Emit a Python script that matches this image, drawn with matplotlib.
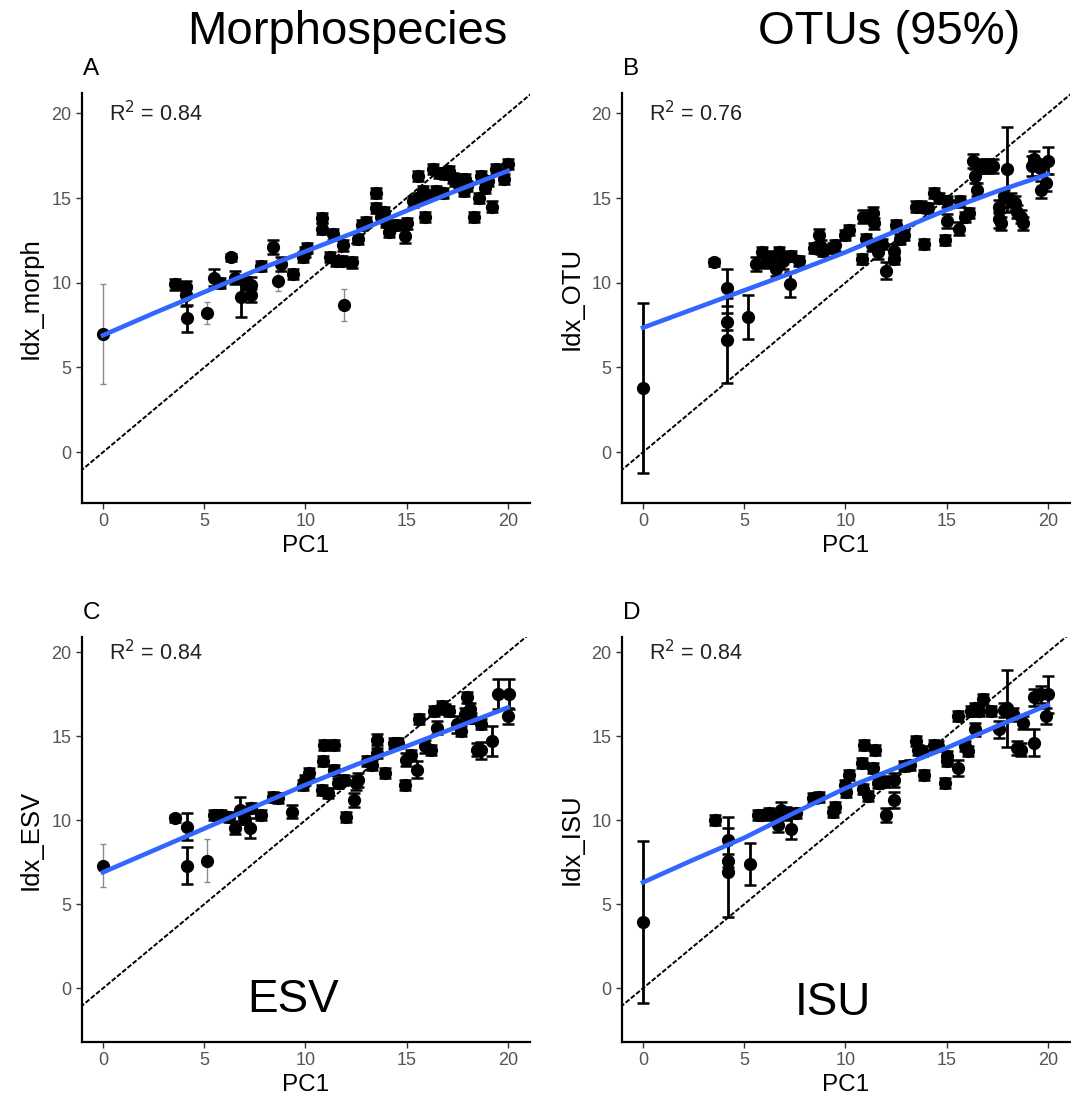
import matplotlib
matplotlib.use("Agg")
import matplotlib.pyplot as plt

plt.rcParams['font.family'] = ['Liberation Sans', 'DejaVu Sans']

# PC1 score, index value and error half-width for each site
a_x = [0.0, 3.54, 4.1, 4.12, 4.15, 5.13, 5.5, 5.76, 6.3, 6.5, 6.8, 7.08, 7.3, 7.3,
       7.8, 8.4, 8.67, 8.8, 9.4, 9.9, 9.96, 10.1, 10.8, 10.8, 11.35, 11.2, 11.5,
       11.8, 11.85, 12.3, 11.9, 12.8, 13.0, 13.5, 13.5, 13.75, 14.15, 14.5, 14.9,
       15.0, 15.55, 15.55, 15.8, 15.9, 16.3, 16.45, 16.6, 16.9, 17.1, 17.3, 17.4,
       17.6, 17.85, 17.9, 18.0, 18.35, 18.6, 18.7, 18.9, 19.0, 19.2, 19.4, 19.8, 20.0,
       15.3, 16.0, 16.8, 14.0, 12.6, 13.9]
a_y = [7.0, 9.9, 9.75, 9.25, 7.9, 8.2, 10.3, 10.0, 11.5, 10.3, 9.15, 9.95, 9.85, 9.25,
       11.0, 12.1, 10.1, 11.1, 10.5, 11.5, 11.8, 12.06, 13.8, 13.2, 12.85, 11.5, 11.3,
       11.3, 12.2, 11.2, 8.7, 13.4, 13.6, 15.3, 14.4, 13.9, 13.0, 13.4, 12.75,
       13.5, 16.3, 15.0, 15.4, 13.9, 16.7, 15.4, 16.5, 16.4, 16.6, 16.2, 16.0,
       16.0, 15.4, 16.1, 15.7, 13.9, 15.0, 16.3, 15.6, 16.0, 14.5, 16.7, 16.1, 17.0,
       14.8, 15.2, 15.3, 13.6, 12.6, 14.2]
a_err = [2.95, 0.3, 0.35, 0.6, 0.8, 0.65, 0.5, 0.3, 0.2, 0.4, 1.15, 0.4, 0.5, 0.4,
         0.3, 0.4, 0.6, 0.4, 0.3, 0.3, 0.3, 0.3, 0.3, 0.3, 0.3, 0.3, 0.3,
         0.3, 0.3, 0.3, 0.95, 0.3, 0.3, 0.3, 0.3, 0.3, 0.3, 0.3, 0.4,
         0.3, 0.3, 0.3, 0.3, 0.3, 0.3, 0.3, 0.3, 0.3, 0.3, 0.3, 0.3,
         0.4, 0.3, 0.3, 0.3, 0.3, 0.3, 0.3, 0.3, 0.3, 0.3, 0.3, 0.3, 0.3,
         0.3, 0.3, 0.3, 0.3, 0.3, 0.3]
a_grey = [0, 5, 16, 30]

b_x = [0.0, 3.5, 4.16, 4.16, 4.16, 5.2, 5.56, 5.9, 6.3, 6.55, 6.7, 6.9, 7.3, 7.25,
       7.7, 8.45, 8.7, 8.77, 9.4, 9.5, 10.0, 10.2, 10.8, 10.85, 11.35, 11.4, 11.3,
       11.8, 11.6, 12.0, 12.4, 12.4, 12.5, 12.9, 13.5, 13.9, 13.75, 14.4, 14.65,
       14.9, 15.0, 15.0, 15.6, 15.65, 15.9, 16.1, 16.3, 16.4, 16.5, 16.7, 17.0,
       17.3, 17.6, 17.6, 17.7, 17.85, 18.0, 18.2, 18.4, 18.5, 18.7, 18.8, 19.2,
       19.3, 19.6, 19.67, 19.9, 20.0, 6.1, 8.9, 11.0, 12.7, 14.1]
b_y = [3.8, 11.2, 9.7, 7.7, 6.6, 8.0, 11.1, 11.8, 11.5, 10.8, 11.8, 11.3, 11.6, 9.9,
       11.3, 12.05, 12.8, 12.1, 12.05, 12.2, 12.8, 13.1, 11.4, 13.9, 14.1, 13.5, 12.2,
       12.3, 11.8, 10.7, 11.9, 11.4, 13.4, 12.8, 14.5, 12.3, 14.5, 15.3, 15.0,
       12.5, 14.8, 13.65, 13.2, 14.8, 13.9, 14.1, 17.2, 16.3, 15.5, 16.9, 16.9,
       16.9, 14.5, 13.75, 13.5, 15.1, 16.7, 14.9, 14.7, 14.2, 13.9, 13.5, 16.9,
       17.3, 16.8, 15.5, 15.9, 17.2, 11.2, 11.9, 12.6, 12.6, 14.4]
b_err = [5.0, 0.2, 1.1, 0.5, 2.5, 1.3, 0.4, 0.3, 0.4, 0.4, 0.3, 0.5, 0.3, 0.75,
         0.3, 0.3, 0.4, 0.4, 0.3, 0.3, 0.3, 0.3, 0.3, 0.4, 0.4, 0.3, 0.3,
         0.3, 0.4, 0.5, 0.4, 0.3, 0.3, 0.3, 0.3, 0.3, 0.3, 0.3, 0.3,
         0.3, 0.3, 0.4, 0.4, 0.3, 0.3, 0.3, 0.4, 0.4, 0.4, 0.4, 0.4,
         0.4, 0.4, 0.5, 0.4, 0.4, 2.5, 0.4, 0.4, 0.4, 0.4, 0.4, 0.6,
         0.5, 0.5, 0.5, 0.5, 0.8, 0.3, 0.3, 0.3, 0.3, 0.3]
b_grey = []

c_x = [0.0, 3.54, 4.15, 4.15, 5.15, 5.5, 5.85, 6.2, 6.5, 6.75, 6.95, 7.28, 7.3, 7.8,
       8.4, 8.64, 9.33, 9.9, 10.0, 10.2, 10.9, 11.4, 10.85, 11.4, 10.8, 11.1, 11.6,
       11.9, 12.0, 12.4, 12.5, 12.6, 13.05, 13.55, 13.55, 13.95, 14.4, 14.6, 14.95,
       14.9, 15.5, 15.6, 15.9, 16.2, 16.35, 16.5, 16.75, 17.1, 17.5, 17.7, 17.9,
       18.0, 18.15, 18.2, 18.5, 18.7, 18.7, 19.2, 19.5, 20.0, 20.05, 13.3, 15.2, 16.9]
c_y = [7.3, 10.1, 9.6, 7.3, 7.6, 10.3, 10.3, 10.2, 9.55, 10.6, 10.2, 9.55, 10.7, 10.3,
       11.4, 11.3, 10.5, 12.1, 12.4, 12.8, 14.45, 14.45, 13.5, 13.0, 11.8, 11.6, 12.2,
       12.4, 10.2, 11.2, 12.2, 12.4, 13.5, 14.8, 14.0, 12.8, 14.6, 14.6, 13.6,
       12.1, 13.0, 16.0, 14.4, 14.2, 16.5, 15.5, 16.8, 16.5, 15.7, 15.3, 16.3,
       17.3, 16.6, 16.1, 14.2, 15.7, 14.15, 14.7, 17.5, 16.2, 17.5, 13.3, 13.9, 16.6]
c_err = [1.3, 0.2, 0.8, 1.1, 1.3, 0.3, 0.3, 0.3, 0.4, 0.8, 0.4, 0.6, 0.3, 0.3,
         0.3, 0.3, 0.4, 0.3, 0.3, 0.3, 0.3, 0.3, 0.3, 0.3, 0.3, 0.3, 0.3,
         0.3, 0.3, 0.4, 0.4, 0.4, 0.3, 0.3, 0.3, 0.3, 0.3, 0.3, 0.4,
         0.3, 0.5, 0.3, 0.4, 0.3, 0.3, 0.4, 0.3, 0.3, 0.5, 0.3, 0.4,
         0.3, 0.4, 0.3, 0.4, 0.3, 0.5, 0.9, 0.9, 0.5, 0.9, 0.3, 0.3, 0.3]
c_grey = [0, 4]

d_x = [0.0, 3.54, 4.2, 4.2, 4.2, 5.27, 5.7, 5.9, 6.2, 6.4, 6.67, 6.83, 7.08, 7.3,
       7.57, 8.4, 8.7, 9.4, 9.5, 10.0, 10.04, 10.2, 10.9, 11.45, 10.8, 11.36, 10.85,
       11.1, 11.6, 11.9, 12.0, 12.4, 12.4, 12.9, 13.5, 13.6, 13.9, 13.8, 14.4,
       14.9, 15.0, 15.0, 15.55, 15.55, 15.9, 16.05, 16.2, 16.4, 16.4, 16.8, 17.2,
       17.6, 17.86, 18.0, 18.3, 18.5, 18.7, 18.8, 19.3, 19.3, 19.67, 19.9, 20.0,
       13.2, 14.6, 16.6]
d_y = [3.95, 10.0, 8.85, 7.6, 6.9, 7.4, 10.3, 10.3, 10.4, 10.3, 9.7, 10.6, 10.4, 9.5,
       10.4, 11.3, 11.4, 10.5, 10.8, 12.1, 11.65, 12.7, 14.5, 14.2, 13.4, 13.1, 11.85,
       11.45, 12.2, 12.3, 10.3, 11.2, 12.4, 13.2, 14.7, 14.2, 12.7, 14.1, 14.5,
       12.2, 13.8, 13.5, 13.1, 16.2, 14.4, 14.1, 16.5, 15.4, 16.7, 17.2, 16.5,
       15.4, 16.55, 16.65, 16.3, 14.3, 14.2, 15.8, 14.6, 17.3, 17.5, 16.2, 17.5,
       13.3, 14.4, 16.5]
d_err = [4.8, 0.3, 1.35, 0.4, 2.65, 1.25, 0.3, 0.3, 0.3, 0.3, 0.4, 0.5, 0.4, 0.6,
         0.3, 0.3, 0.3, 0.3, 0.3, 0.3, 0.3, 0.3, 0.3, 0.3, 0.3, 0.3, 0.3,
         0.3, 0.3, 0.3, 0.4, 0.5, 0.4, 0.3, 0.3, 0.3, 0.3, 0.3, 0.3,
         0.3, 0.3, 0.3, 0.5, 0.3, 0.3, 0.3, 0.3, 0.4, 0.3, 0.3, 0.3,
         0.5, 0.4, 2.3, 0.4, 0.4, 0.4, 0.4, 0.8, 0.5, 0.5, 0.5, 1.1,
         0.3, 0.3, 0.3]
d_grey = []

# fitted smooth, read at fixed PC1 steps
fit_x = [0, 2.5, 5, 7.5, 10, 12.5, 15, 17.5, 20]
a_fit = [6.9, 8.2, 9.45, 10.7, 11.85, 13.0, 14.25, 15.45, 16.6]
b_fit = [7.35, 8.45, 9.55, 10.65, 11.8, 13.05, 14.3, 15.4, 16.4]
c_fit = [6.9, 8.2, 9.5, 10.8, 12.1, 13.3, 14.4, 15.55, 16.7]
d_fit = [6.3, 7.65, 8.95, 10.45, 11.9, 13.1, 14.3, 15.6, 16.85]

r2 = ["0.84", "0.76", "0.84", "0.84"]
ylabels = ["Idx_morph", "Idx_OTU", "Idx_ESV", "Idx_ISU"]
letters = ["A", "B", "C", "D"]

W, H = 1071, 1110
fig = plt.figure(figsize=(W / 100, H / 100), dpi=100)


def box(left, top, right, bottom):
    """pixel box -> figure fraction rect"""
    return [left / W, 1 - bottom / H, (right - left) / W, (bottom - top) / H]


def draw_panel(ax, x, y, err, grey, fit, ylab, r2txt, ylim):
    """one scatter panel with error bars, smooth and 1:1 line"""
    ax.set_xlim(-1.04, 21.1)
    ax.set_ylim(*ylim)
    ax.plot([-5, 30], [-5, 30], color="black", lw=1.4, ls=(0, (2.5, 1)), zorder=1)
    for i in range(len(x)):
        if i in grey:
            ax.errorbar(x[i], y[i], yerr=err[i], fmt="none", ecolor="#8a8a8a",
                        elinewidth=1.0, capsize=2.5, capthick=1.0, zorder=2)
        else:
            ax.errorbar(x[i], y[i], yerr=err[i], fmt="none", ecolor="black",
                        elinewidth=2.0, capsize=4, capthick=1.8, zorder=2)
    ax.plot(x, y, "o", color="black", ms=8.5, zorder=3)
    ax.plot(fit_x, fit, color="#3366FF", lw=3.3, zorder=4)
    ax.text(0.3, 20.0, r"R$^2$ = " + r2txt, fontsize=15.5, color="#222222",
            va="center", ha="left")
    for s in ("top", "right"):
        ax.spines[s].set_visible(False)
    for s in ("left", "bottom"):
        ax.spines[s].set_linewidth(1.6)
    ax.set_xticks([0, 5, 10, 15, 20])
    ax.set_yticks([0, 5, 10, 15, 20])
    ax.tick_params(labelsize=13, labelcolor="#555555", color="#333333",
                   length=4, width=1)
    ax.set_xlabel("PC1", fontsize=17.5, color="black", labelpad=3)
    ax.set_ylabel(ylab, fontsize=18.5, color="black", labelpad=6)


rects = [box(82, 93, 530, 503), box(622, 93, 1070, 503),
         box(82, 637, 530, 1042), box(622, 637, 1070, 1042)]
limits = [(-3.0, 21.2), (-3.0, 21.2), (-3.2, 20.9), (-3.2, 20.9)]
data = [(a_x, a_y, a_err, a_grey, a_fit), (b_x, b_y, b_err, b_grey, b_fit),
        (c_x, c_y, c_err, c_grey, c_fit), (d_x, d_y, d_err, d_grey, d_fit)]

for k in range(4):
    ax = fig.add_axes(rects[k])
    x, y, err, grey, fit = data[k]
    draw_panel(ax, x, y, err, grey, fit, ylabels[k], r2[k], limits[k])
    # panel letter sits above the top-left corner
    fig.text(rects[k][0] + 0.001, rects[k][1] + rects[k][3] + 0.012, letters[k],
             fontsize=17.5, ha="left", va="bottom")

# column headers and row names
fig.text(347 / W, 1 - 32 / H, "Morphospecies", fontsize=34, ha="center", va="center")
fig.text(889 / W, 1 - 32 / H, "OTUs (95%)", fontsize=34, ha="center", va="center")
fig.text(293 / W, 1 - 1000 / H, "ESV", fontsize=33, ha="center", va="center")
fig.text(833 / W, 1 - 1003 / H, "ISU", fontsize=33, ha="center", va="center")

fig.savefig("out.png", dpi=100)
